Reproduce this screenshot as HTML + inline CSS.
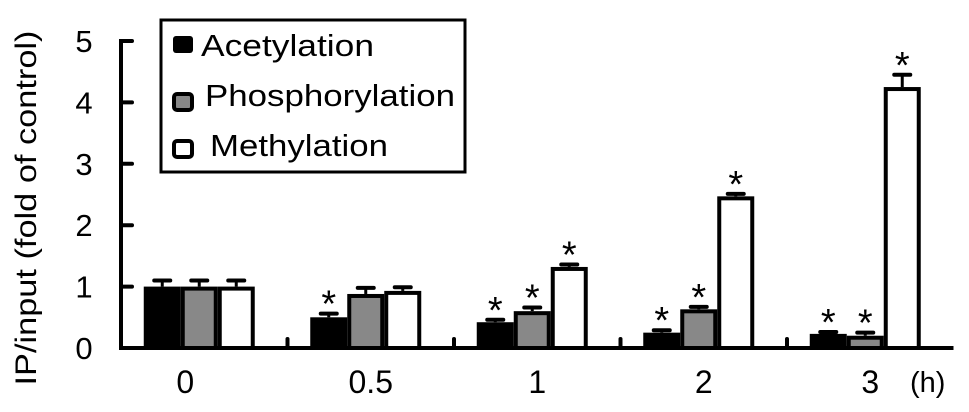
<!DOCTYPE html>
<html><head><meta charset="utf-8"><style>
body{margin:0;background:#fff;}
svg{display:block;font-family:"Liberation Sans",Arial,sans-serif;}
</style></head><body>
<svg id="chart" width="969" height="412" viewBox="0 0 969 412" xmlns="http://www.w3.org/2000/svg">
<g id="axes"></g><g id="bars"></g>
<g>
<rect x="161" y="20" width="304" height="152" fill="#fff" stroke="#000" stroke-width="3"/>
<rect x="173" y="36" width="20" height="17" rx="3" fill="#000"/>
<text x="201" y="56" font-size="31" textLength="173" lengthAdjust="spacingAndGlyphs">Acetylation</text>
<rect x="174" y="94" width="18" height="16" rx="3" fill="#888" stroke="#000" stroke-width="4"/>
<text x="205" y="106" font-size="31" textLength="250" lengthAdjust="spacingAndGlyphs">Phosphorylation</text>
<rect x="174" y="141" width="18" height="16" rx="3" fill="#fff" stroke="#000" stroke-width="4"/>
<text x="210" y="156" font-size="31" textLength="178" lengthAdjust="spacingAndGlyphs">Methylation</text>
</g>
</svg>
<script>
const categories=["0","0.5","1","2","3"];
const acetylation=[1.0,0.5,0.42,0.25,0.23];
const phosphorylation=[1.0,0.88,0.6,0.63,0.2];
const methylation=[1.0,0.93,1.32,2.47,4.25];
const errAcet=[0.1,0.06,0.04,0.04,0.03];
const errPhos=[0.1,0.1,0.06,0.04,0.05];
const errMeth=[0.1,0.06,0.04,0.04,0.2];
const sigAcet=[false,true,true,true,true];
const sigPhos=[false,false,true,true,true];
const sigMeth=[false,false,true,true,true];
const yTicks=[0,1,2,3,4,5];

const NS="http://www.w3.org/2000/svg";
const X0=121,Y0=348,UNIT=61.4,GW=166.5;
const y=v=>Y0-v*UNIT;
const gx=i=>X0+GW*i;
function mk(t,a,p){const e=document.createElementNS(NS,t);for(const k in a)e.setAttribute(k,a[k]);p.appendChild(e);return e;}
const axes=document.getElementById('axes'),bars=document.getElementById('bars');
const ya=mk('line',{x1:X0,y1:y(5)-2,x2:X0,y2:Y0+2,stroke:'#000','stroke-width':4},axes);


const xa=mk('line',{x1:X0-2,y1:Y0,x2:X0+GW*5,y2:Y0,stroke:'#000','stroke-width':4},axes);


yTicks.forEach(t=>{
  const l=mk('line',{x1:X0,y1:y(t),x2:X0+11,y2:y(t),stroke:'#000','stroke-width':4,'stroke-linecap':'round'},axes);
  
  
  const tx=mk('text',{x:84,y:y(t)+11,'font-size':31,'text-anchor':'middle'},axes);tx.textContent=t;
  
  
});
const yt=mk('text',{x:0,y:0,'font-size':30,'text-anchor':'middle',textLength:355,lengthAdjust:'spacingAndGlyphs',transform:'translate(36,208) rotate(-90)'},axes);
yt.textContent='IP/input (fold of control)';


categories.forEach((c,i)=>{
  if(i>0){const l=mk('line',{x1:gx(i),y1:Y0,x2:gx(i),y2:Y0-9,stroke:'#000','stroke-width':4,'stroke-linecap':'round'},axes);
  
  }
  const t=mk('text',{x:gx(i)+GW/2+(i==0?-19:0),y:393,'font-size':32,'text-anchor':'middle'},axes);t.textContent=c;
  
  
});
const u=mk('text',{x:910,y:392,'font-size':29},axes);u.textContent='(h)';


const series=[[acetylation,errAcet,sigAcet,'#000','acetylation'],[phosphorylation,errPhos,sigPhos,'#888','phosphorylation'],[methylation,errMeth,sigMeth,'#fff','methylation']];
const BW=37;
categories.forEach((c,i)=>{
  const start=gx(i)+GW/2-BW*1.5-5;
  series.forEach((s,j)=>{
    const v=s[0][i],bx=start+j*BW,top=y(v);
    const eb=mk('line',{x1:bx+BW/2,y1:top,x2:bx+BW/2,y2:y(v+s[1][i]),stroke:'#000','stroke-width':3},bars);
    
    
    const cap=mk('line',{x1:bx+BW/2-8,y1:y(v+s[1][i]),x2:bx+BW/2+8,y2:y(v+s[1][i]),stroke:'#000','stroke-width':4,'stroke-linecap':'round'},bars);
    
    
    const r=mk('rect',{x:bx+2,y:top+2,width:BW-4,height:Y0-top-2,fill:s[3],stroke:'#000','stroke-width':4},bars);
    
    
    if(s[2][i]){const a=mk('text',{x:bx+BW/2,y:y(v+s[1][i])+3,'font-size':38,'text-anchor':'middle'},bars);a.textContent='*';
    
    }
  });
});
</script>
</body></html>
